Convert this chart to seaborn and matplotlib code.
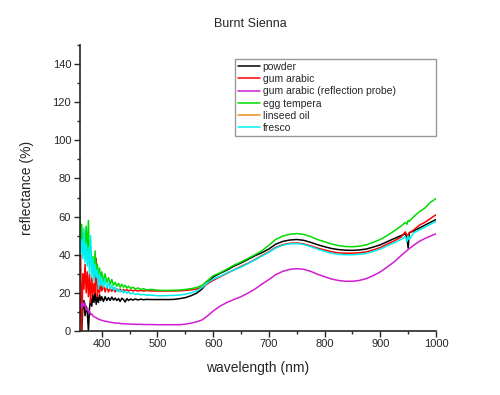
import numpy as np
import pandas as pd
import seaborn as sns
from matplotlib import pyplot as plt
from matplotlib.lines import Line2D
from matplotlib.ticker import MultipleLocator

# wavelength grid (nm), noisy UV end and smooth visible/NIR part
wl_noisy = [360, 362, 364, 366, 368, 370, 372, 374, 376, 378, 380, 382, 384, 386, 388, 390,
            392, 394, 396, 398, 400, 403, 406, 409, 412, 415, 418, 421, 424, 427, 430, 433,
            436, 439, 442, 445, 448, 452, 456, 460, 465, 470, 475, 480, 490, 500]
wl_smooth = [510, 520, 530, 540, 550, 560, 570, 580, 590, 600, 612, 625, 637, 650, 662, 675,
             687, 700, 712, 725, 737, 750, 762, 775, 787, 800, 812, 825, 837, 850, 862, 875,
             887, 900, 912, 925, 937, 945, 948, 950, 952, 960, 970, 980, 990, 1000]

powder = [19, 14, 0, 12, 16, 8, 13, 10, 0, 12, 17, 13, 19, 15, 20, 14,
          18, 15, 19, 16, 18, 15.5, 18, 16, 17.5, 16, 17.8, 16.2, 17.3, 16, 17, 15.5,
          17.2, 16.5, 15.2, 17, 16, 16.8, 16.2, 16.8, 16.3, 16.7, 16.4, 16.6, 16.5, 16.5] + \
         [16.5, 16.5, 16.6, 17, 17.5, 18.5, 19.8, 22, 25.5, 28.3, 30.2, 32, 34, 35.7, 37.5, 39.5,
          41, 43, 45.5, 47, 47.7, 48, 47.6, 46.5, 45.3, 44.2, 43.3, 42.7, 42.4, 42.3, 42.5, 43,
          44, 45.2, 46.8, 48.5, 50, 51, 48.5, 43.5, 51.5, 52.5, 54, 55.5, 57, 58.5]

gum_arabic = [35, 40, 0, 30, 22, 35, 20, 31, 18, 30, 15, 28, 19, 25, 20, 38,
              18, 24, 20, 25, 21, 24, 20.5, 23.5, 20.5, 22.5, 20.8, 22.5, 20.5, 22, 21, 22,
              20.8, 21.8, 21, 21.7, 21, 21.5, 21, 21.4, 21, 21.3, 21, 21.2, 21, 21] + \
             [21, 21, 21, 21.1, 21.3, 21.6, 22, 23, 24.8, 26.6, 28.4, 30.3, 32, 33.9, 35.5, 37.5,
              39.5, 41.5, 43.8, 45.3, 46, 46.2, 45.7, 44.7, 43.5, 42.5, 41.6, 41, 40.8, 40.8, 41, 41.5,
              42.5, 43.8, 45.5, 47.3, 49.2, 52, 50, 50.5, 51.5, 53, 55.5, 57, 59, 61]

gum_arabic_probe = [17, 14, 12.5, 15, 13, 14.5, 11, 12, 10, 10.5, 8.5, 9, 8, 7.5, 7.2, 7,
                    6.5, 6.3, 6, 5.8, 5.6, 5.4, 5.1, 5, 4.8, 4.6, 4.5, 4.3, 4.2, 4.1, 4.2, 3.9,
                    3.9, 3.8, 3.8, 3.7, 3.7, 3.6, 3.6, 3.5, 3.5, 3.5, 3.4, 3.4, 3.4, 3.3] + \
                   [3.3, 3.3, 3.3, 3.3, 3.6, 4.1, 4.8, 5.8, 8, 10.5, 13, 15, 16.5, 18, 19.8, 22,
                    24.5, 27, 29.5, 31.3, 32.3, 32.7, 32.4, 31.3, 29.8, 28.5, 27.3, 26.5, 26.1, 26.1, 26.5, 27.5,
                    29, 31, 33.5, 36.3, 39.5, 41.5, 42.2, 42.7, 43.2, 45, 47, 48.5, 49.8, 51]

egg_tempera = [79, 45, 56, 40, 52, 44, 55, 38, 58, 36, 44, 33, 39, 31, 42, 30,
               35, 28, 33, 27.5, 31, 26, 30, 25.5, 28, 24.5, 27, 24, 25.5, 23.5, 25, 23,
               24.5, 23, 24, 22.5, 23.5, 22.3, 23, 22, 22.6, 21.8, 22.2, 21.6, 21.8, 21.4] + \
              [21.3, 21.3, 21.4, 21.5, 21.8, 22.2, 22.8, 24, 26.5, 29, 30.5, 32.5, 34.5, 36.2, 38, 40,
               42, 45, 48, 49.8, 50.7, 51.1, 50.7, 49.5, 48, 46.8, 45.7, 44.8, 44.3, 44.2, 44.5, 45.2,
               46.5, 48, 50, 52.5, 55, 57, 56, 58, 57.5, 60, 62.5, 64.5, 67.5, 69.5]

fresco = [52, 40, 48, 38, 54, 36, 46, 34, 44, 30, 50, 28, 38, 26, 35, 28,
          32, 22, 30, 24, 28, 23, 27, 22.5, 25.5, 22, 24, 21.5, 23, 20.8, 22, 20.5,
          21.5, 20, 21, 19.8, 20.5, 19.5, 20, 19.2, 19.5, 19, 19.2, 18.8, 18.8, 18.5] + \
         [18.5, 18.6, 18.7, 18.9, 19.3, 20, 21, 22.8, 25.3, 27.2, 28.7, 30.5, 32, 33.5, 35.3, 37.3,
          39.2, 41.3, 43.5, 45, 45.7, 45.9, 45.4, 44.3, 43, 41.8, 40.8, 40.2, 40, 40, 40.2, 40.7,
          41.7, 43, 44.6, 46.3, 48, 49.5, 47, 49.8, 48, 51.5, 53, 54.5, 56, 57.5]

wavelength = wl_noisy + wl_smooth
series = {
    'powder': powder,
    'gum arabic': gum_arabic,
    'gum arabic (reflection probe)': gum_arabic_probe,
    'egg tempera': egg_tempera,
    'fresco': fresco,
}
colors = {
    'powder': '#000000',
    'gum arabic': '#ff0000',
    'gum arabic (reflection probe)': '#d21ed2',
    'egg tempera': '#00dc00',
    'linseed oil': '#e8901e',
    'fresco': '#00eeee',
}
legend_order = ['powder', 'gum arabic', 'gum arabic (reflection probe)',
                'egg tempera', 'linseed oil', 'fresco']

frames = []
for name, vals in series.items():
    assert len(vals) == len(wavelength), name
    frames.append(pd.DataFrame({'wavelength': wavelength, 'reflectance': vals, 'sample': name}))
df = pd.concat(frames, ignore_index=True)

sns.set_style('ticks')
plt.rcParams['font.family'] = ['Liberation Sans', 'DejaVu Sans']

fig = plt.figure(figsize=(5, 3.95), dpi=100)
ax = fig.add_axes([0.159, 0.162, 0.713, 0.724])

sns.lineplot(data=df, x='wavelength', y='reflectance', hue='sample',
             hue_order=list(series.keys()), palette=colors, estimator=None,
             sort=False, linewidth=1.1, legend=False, ax=ax)

ax.set_xlim(360, 1000)
ax.set_ylim(0, 150)
ax.xaxis.set_major_locator(MultipleLocator(100))
ax.xaxis.set_minor_locator(MultipleLocator(50))
ax.yaxis.set_major_locator(MultipleLocator(20))
ax.yaxis.set_minor_locator(MultipleLocator(10))
ax.set_xticks([400, 500, 600, 700, 800, 900, 1000])
ax.tick_params(which='major', direction='out', length=4, width=1, labelsize=8, pad=2)
ax.tick_params(which='minor', direction='out', length=2.5, width=1)
sns.despine(ax=ax)
for s in ['left', 'bottom']:
    ax.spines[s].set_linewidth(1.2)

ax.set_xlabel('wavelength (nm)', fontsize=10)
ax.set_ylabel('reflectance (%)', fontsize=10)
ax.xaxis.set_label_coords(0.499, -0.105)
ax.yaxis.set_label_coords(-0.128, 0.5)

fig.text(0.5, 0.94, 'Burnt Sienna', ha='center', va='center', fontsize=9)

handles = [Line2D([], [], color=colors[n], linewidth=1.1) for n in legend_order]
leg = ax.legend(handles, legend_order, loc='upper left',
                bbox_to_anchor=(0.436, 0.671, 0.564, 0.28), mode='expand',
                fontsize=7.5, frameon=True, fancybox=False, borderpad=0.25,
                labelspacing=0.22, handlelength=2.2, handletextpad=0.2,
                borderaxespad=0)
leg.get_frame().set_edgecolor('#808080')
leg.get_frame().set_linewidth(1.0)

fig.savefig('out.png', dpi=100)
